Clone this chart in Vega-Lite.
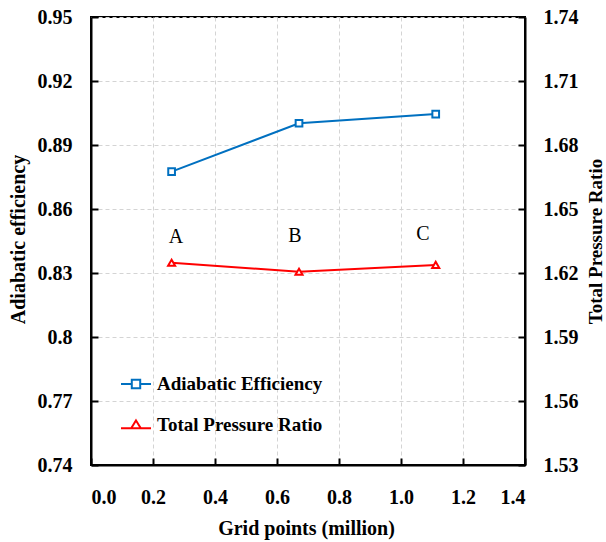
{
  "$schema": "https://vega.github.io/schema/vega-lite/v6.json",
  "width": 434,
  "height": 448,
  "autosize": {"type": "none"},
  "padding": {"left": 91, "top": 17, "right": 81, "bottom": 77},
  "background": "white",
  "config": {
    "view": {"stroke": "black", "strokeWidth": 2},
    "axis": {
      "labelFont": "Liberation Serif", "labelFontWeight": "bold", "labelFontSize": 20, "labelColor": "black",
      "titleFont": "Liberation Serif", "titleFontWeight": "bold", "titleFontSize": 20, "titleColor": "black",
      "domainColor": "black", "domainWidth": 2, "tickColor": "black", "tickWidth": 2, "tickSize": -7,
      "gridColor": "#d4d4d4", "gridDash": [4, 3], "gridWidth": 1
    },
    "legend": {
      "labelFont": "Liberation Serif", "labelFontWeight": "bold", "labelFontSize": 19, "labelColor": "black",
      "padding": 0, "symbolStrokeWidth": 2, "labelLimit": 400
    }
  },
  "datasets": {
    "eff": [
      {"grid": 0.26, "value": 0.8775, "series": "Adiabatic Efficiency"},
      {"grid": 0.671, "value": 0.9002, "series": "Adiabatic Efficiency"},
      {"grid": 1.112, "value": 0.9045, "series": "Adiabatic Efficiency"}
    ],
    "pr": [
      {"grid": 0.26, "value": 1.6248, "series": "Total Pressure Ratio"},
      {"grid": 0.671, "value": 1.6206, "series": "Total Pressure Ratio"},
      {"grid": 1.112, "value": 1.6238, "series": "Total Pressure Ratio"}
    ],
    "labels": [
      {"grid": 0.274, "value": 1.6369, "label": "A"},
      {"grid": 0.658, "value": 1.6375, "label": "B"},
      {"grid": 1.071, "value": 1.6383, "label": "C"}
    ]
  },
  "layer": [
    {
      "data": {"name": "eff"},
      "encoding": {
        "x": {
          "field": "grid", "type": "quantitative",
          "scale": {"domain": [0, 1.4], "nice": false, "zero": false},
          "axis": {
            "title": "Grid points (million)", "values": [0, 0.2, 0.4, 0.6, 0.8, 1.0, 1.2, 1.4], "format": ".1f",
            "labelPadding": 29, "titleX": 215, "titleY": 63, "titleBaseline": "middle", "titleAlign": "center", "grid": true
          }
        },
        "y": {
          "field": "value", "type": "quantitative",
          "scale": {"domain": [0.74, 0.95], "nice": false, "zero": false},
          "axis": {
            "title": "Adiabatic efficiency", "orient": "left",
            "values": [0.74, 0.77, 0.8, 0.83, 0.86, 0.89, 0.92, 0.95], "format": ".2~f",
            "labelPadding": 26, "titleAngle": -90, "titleX": -73, "titleY": 222, "titleBaseline": "middle", "titleAlign": "center", "grid": true
          }
        }
      },
      "layer": [
        {
          "mark": {"type": "line", "strokeWidth": 2},
          "encoding": {
            "color": {
              "field": "series", "type": "nominal",
              "scale": {"domain": ["Adiabatic Efficiency", "Total Pressure Ratio"], "range": ["#0070C0", "#FF0000"]},
              "legend": {
                "title": null, "orient": "none", "legendX": 29, "legendY": 351, "padding": 0,
                "symbolSize": 900, "labelOffset": 5, "rowPadding": 15, "symbolStrokeWidth": 2, "labelLimit": 400,
                "labelFont": "Liberation Serif", "labelFontWeight": "bold", "labelFontSize": 19, "labelColor": "black",
                "encode": {
                  "symbols": {
                    "update": {
                      "shape": [
                        {"test": "datum.value === 'Adiabatic Efficiency'", "value": "M-1,0H-0.28M0.28,0H1M-0.28,-0.28H0.28V0.28H-0.28Z"},
                        {"value": "M-1,0.22H-0.32M0.32,0.22H1M0,-0.3L0.32,0.22H-0.32Z"}
                      ],
                      "fill": {"value": "white"},
                      "strokeWidth": {"value": 2}
                    }
                  }
                }
              }
            }
          }
        },
        {
          "mark": {"type": "point", "shape": "square", "filled": true, "fill": "white", "stroke": "#0070C0", "strokeWidth": 2, "size": 45, "opacity": 1}
        }
      ]
    },
    {
      "data": {"name": "pr"},
      "encoding": {
        "x": {"field": "grid", "type": "quantitative"},
        "y": {
          "field": "value", "type": "quantitative",
          "scale": {"domain": [1.53, 1.74], "nice": false, "zero": false},
          "axis": {
            "title": "Total Pressure Ratio", "orient": "right",
            "values": [1.53, 1.56, 1.59, 1.62, 1.65, 1.68, 1.71, 1.74], "format": ".2f",
            "labelPadding": 25, "titleFontSize": 19, "titleAngle": -90, "titleX": 70, "titleY": 224, "titleBaseline": "middle", "titleAlign": "center", "grid": false
          }
        }
      },
      "layer": [
        {
          "mark": {"type": "line", "strokeWidth": 2},
          "encoding": {"color": {"field": "series", "type": "nominal"}}
        },
        {
          "mark": {"type": "point", "shape": "triangle-up", "filled": true, "fill": "white", "stroke": "#FF0000", "strokeWidth": 2, "size": 50, "opacity": 1}
        },
        {
          "data": {"name": "labels"},
          "mark": {"type": "text", "font": "Liberation Serif", "fontSize": 20, "color": "black", "align": "center", "baseline": "middle"},
          "encoding": {"text": {"field": "label", "type": "nominal"}}
        }
      ]
    }
  ],
  "resolve": {"scale": {"y": "independent"}}
}
